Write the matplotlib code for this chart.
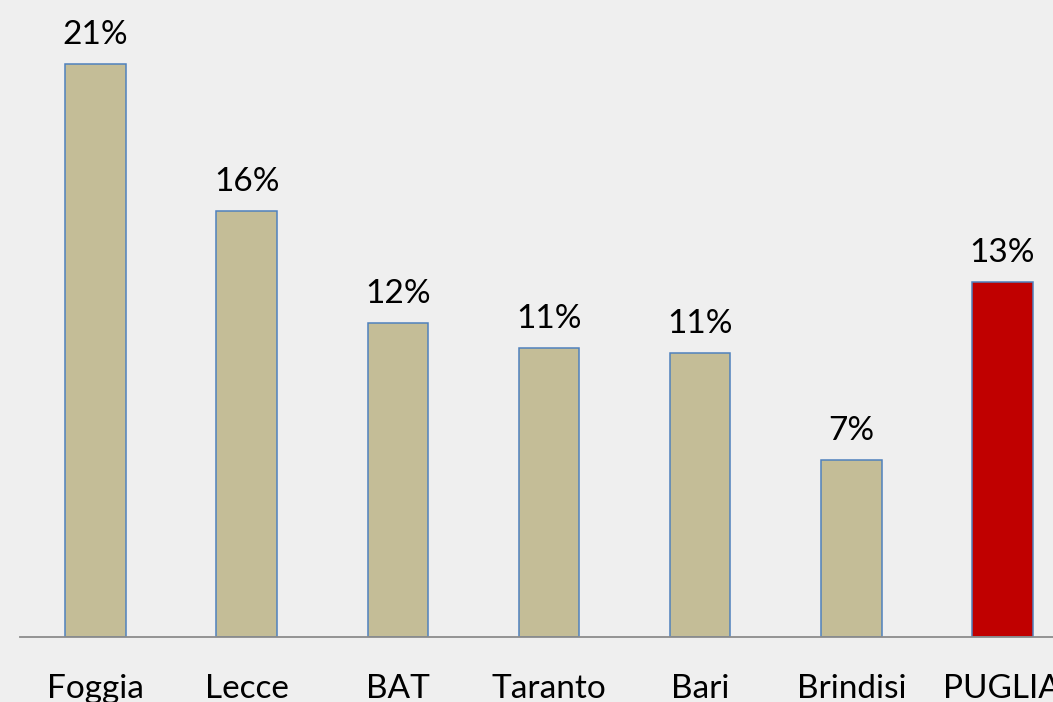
import matplotlib.pyplot as plt

# Values (share per province)
provinces = ["Foggia", "Lecce", "BAT", "Taranto", "Bari", "Brindisi", "PUGLIA"]
shares = [0.210, 0.156, 0.115, 0.106, 0.104, 0.065, 0.130]
share_labels = ["21%", "16%", "12%", "11%", "11%", "7%", "13%"]

tan = "#C4BD97"
red = "#C00000"
colors = [tan] * 6 + [red]

plt.rcParams['font.family'] = ['Lato', 'DejaVu Sans']

fig = plt.figure(figsize=(10.53, 7.02), dpi=100)
fig.patch.set_facecolor("#EFEFEF")
ax = fig.add_axes([20 / 1053, 65 / 702, 1058 / 1053, 628 / 702])
ax.set_facecolor("none")

x = range(len(provinces))
ax.bar(x, shares, width=0.4, color=colors, edgecolor="#4F81BD", linewidth=1.1)

for i, (v, lab) in enumerate(zip(shares, share_labels)):
    ax.annotate(lab, (i, v), xytext=(0, 10), textcoords="offset points",
                ha="center", va="bottom", fontsize=24, color="black")

ax.set_xlim(-0.5, len(provinces) - 0.5)
ax.set_ylim(0, 0.23)
ax.set_xticks(list(x))
ax.set_xticklabels(provinces, fontsize=24)
ax.tick_params(axis="x", length=0, pad=27)
ax.set_yticks([])
for side in ["top", "right", "left"]:
    ax.spines[side].set_visible(False)
ax.spines["bottom"].set_color("#8C8C8C")
ax.spines["bottom"].set_linewidth(1.3)

fig.savefig("out.png", dpi=100, facecolor=fig.get_facecolor())
